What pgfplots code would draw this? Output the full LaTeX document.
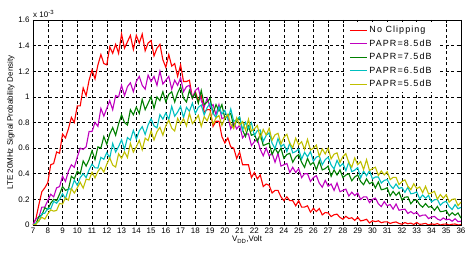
\documentclass[border=0pt]{standalone}
\usepackage{fontspec}
\setmainfont{Liberation Sans}
\newfontfamily\legfont[LetterSpace=12]{Liberation Sans}
\usepackage{pgfplots}
\usepackage{pgfplotstable}
\pgfplotsset{compat=1.18}
\definecolor{mred}{rgb}{1,0,0}
\definecolor{mmag}{rgb}{0.75,0,0.75}
\definecolor{mgreen}{rgb}{0,0.5,0}
\definecolor{mcyan}{rgb}{0,0.75,0.75}
\definecolor{myel}{rgb}{0.75,0.75,0}
\pgfplotstableread{
x r m g c y
7.0 0 0 0 0 0
7.2 0.05 0.05 0.01 0.016 0.005
7.4 0.16 0.06 0.066 0.028 0.036
7.6 0.26 0.14 0.077 0.088 0.06
7.8 0.29 0.14 0.135 0.092 0.046
8.0 0.33 0.19 0.12 0.13 0.086
8.2 0.47 0.24 0.17 0.126 0.118
8.4 0.48 0.22 0.20 0.184 0.108
8.6 0.57 0.29 0.19 0.17 0.114
8.8 0.56 0.30 0.24 0.20 0.168
9.0 0.71 0.38 0.30 0.245 0.163
9.2 0.68 0.34 0.27 0.205 0.212
9.4 0.75 0.42 0.28 0.282 0.194
9.6 0.84 0.47 0.38 0.28 0.284
9.8 0.80 0.45 0.36 0.35 0.249
10.0 0.93 0.53 0.42 0.31 0.29
10.2 0.93 0.60 0.40 0.37 0.333
10.4 1.07 0.59 0.50 0.40 0.288
10.6 1.01 0.61 0.46 0.37 0.358
10.8 1.13 0.73 0.51 0.43 0.352
11.0 1.21 0.73 0.58 0.475 0.412
11.2 1.14 0.80 0.51 0.446 0.368
11.4 1.25 0.77 0.61 0.445 0.419
11.6 1.33 0.91 0.60 0.528 0.449
11.8 1.26 0.85 0.69 0.513 0.413
12.0 1.25 0.91 0.63 0.565 0.475
12.2 1.39 0.97 0.71 0.523 0.524
12.4 1.34 0.90 0.76 0.636 0.468
12.6 1.41 1.01 0.70 0.569 0.452
12.8 1.34 1.00 0.79 0.612 0.556
13.0 1.49 1.09 0.86 0.665 0.52
13.2 1.38 1.01 0.80 0.591 0.571
13.4 1.43 1.08 0.78 0.682 0.527
13.6 1.48 1.11 0.90 0.663 0.638
13.8 1.37 1.04 0.86 0.739 0.569
14.0 1.48 1.12 0.92 0.67 0.61
14.2 1.42 1.16 0.87 0.734 0.661
14.4 1.49 1.09 0.98 0.768 0.587
14.6 1.36 1.06 0.90 0.707 0.678
14.8 1.42 1.17 0.95 0.781 0.659
15.0 1.44 1.12 1.00 0.83 0.735
15.2 1.32 1.16 0.91 0.774 0.664
15.4 1.38 1.09 1.00 0.758 0.728
15.6 1.41 1.20 0.97 0.862 0.762
15.8 1.29 1.10 1.04 0.826 0.701
16.0 1.23 1.13 0.96 0.875 0.775
16.2 1.33 1.16 1.02 0.823 0.818
16.4 1.24 1.06 1.04 0.926 0.756
16.6 1.26 1.13 0.96 0.849 0.734
16.8 1.16 1.09 1.03 0.882 0.832
17.0 1.25 1.15 1.08 0.925 0.79
17.2 1.12 1.04 0.99 0.839 0.829
17.4 1.12 1.08 0.96 0.918 0.773
17.6 1.13 1.09 1.05 0.887 0.872
17.8 0.99 0.99 0.99 0.951 0.791
18.0 1.04 1.05 1.03 0.87 0.82
18.2 0.97 1.07 0.95 0.918 0.857
18.4 1.01 0.97 1.05 0.936 0.769
18.6 0.88 0.92 0.94 0.859 0.846
18.8 0.90 0.99 0.96 0.917 0.813
19.0 0.90 0.92 0.99 0.95 0.875
19.2 0.77 0.94 0.87 0.874 0.788
19.4 0.81 0.86 0.94 0.838 0.836
19.6 0.81 0.94 0.89 0.922 0.854
19.8 0.69 0.83 0.94 0.866 0.777
20.0 0.64 0.84 0.83 0.895 0.835
20.2 0.68 0.85 0.86 0.823 0.864
20.4 0.61 0.75 0.87 0.906 0.788
20.6 0.60 0.80 0.77 0.809 0.752
20.8 0.52 0.75 0.81 0.822 0.836
21.0 0.57 0.78 0.84 0.845 0.78
21.2 0.47 0.68 0.74 0.741 0.807
21.4 0.47 0.71 0.69 0.802 0.739
21.6 0.47 0.71 0.77 0.753 0.826
21.8 0.37 0.62 0.70 0.799 0.733
22.0 0.41 0.65 0.71 0.70 0.75
22.2 0.36 0.67 0.65 0.736 0.777
22.4 0.39 0.59 0.71 0.742 0.679
22.6 0.30 0.54 0.62 0.653 0.746
22.8 0.32 0.60 0.63 0.699 0.703
23.0 0.31 0.54 0.64 0.72 0.755
23.2 0.25 0.56 0.55 0.638 0.662
23.4 0.27 0.49 0.60 0.596 0.704
23.6 0.27 0.56 0.56 0.674 0.716
23.8 0.22 0.46 0.60 0.612 0.633
24.0 0.19 0.47 0.52 0.63 0.684
24.2 0.22 0.48 0.55 0.573 0.708
24.4 0.19 0.41 0.56 0.64 0.638
24.6 0.19 0.45 0.49 0.563 0.604
24.8 0.15 0.41 0.53 0.574 0.678
25.0 0.19 0.44 0.55 0.593 0.626
25.2 0.14 0.37 0.49 0.514 0.65
25.4 0.14 0.40 0.45 0.567 0.59
25.6 0.15 0.40 0.52 0.532 0.668
25.8 0.10 0.34 0.47 0.573 0.585
26.0 0.13 0.37 0.49 0.498 0.60
26.2 0.105 0.385 0.43 0.53 0.624
26.4 0.128 0.326 0.50 0.538 0.535
26.6 0.079 0.295 0.43 0.47 0.594
26.8 0.097 0.348 0.44 0.51 0.555
27.0 0.094 0.303 0.46 0.53 0.60
27.2 0.066 0.32 0.38 0.468 0.516
27.4 0.08 0.27 0.43 0.438 0.553
27.6 0.085 0.328 0.39 0.504 0.563
27.8 0.059 0.26 0.43 0.458 0.488
28.0 0.045 0.27 0.37 0.48 0.534
28.2 0.068 0.28 0.39 0.424 0.557
28.4 0.05 0.226 0.40 0.492 0.486
28.6 0.057 0.256 0.345 0.416 0.451
28.8 0.036 0.23 0.375 0.428 0.524
29.0 0.06 0.25 0.39 0.448 0.471
29.2 0.032 0.20 0.34 0.368 0.495
29.4 0.037 0.22 0.314 0.42 0.433
29.6 0.045 0.22 0.36 0.384 0.51
29.8 0.016 0.175 0.322 0.424 0.426
30.0 0.033 0.20 0.335 0.36 0.44
30.2 0.026 0.21 0.289 0.375 0.451
30.4 0.033 0.166 0.336 0.375 0.387
30.6 0.018 0.144 0.275 0.328 0.422
30.8 0.024 0.182 0.28 0.348 0.391
31.0 0.025 0.15 0.291 0.355 0.417
31.2 0.012 0.16 0.227 0.31 0.354
31.4 0.02 0.124 0.262 0.285 0.372
31.6 0.024 0.164 0.231 0.32 0.372
31.8 0.012 0.115 0.257 0.285 0.315
32.0 0.006 0.12 0.196 0.293 0.339
32.2 0.019 0.124 0.217 0.255 0.352
32.4 0.01 0.09 0.22 0.294 0.302
32.6 0.015 0.105 0.166 0.244 0.276
32.8 0.004 0.088 0.193 0.248 0.322
33.0 0.02 0.099 0.195 0.258 0.284
33.2 0.005 0.068 0.159 0.205 0.297
33.4 0.008 0.077 0.139 0.234 0.253
33.6 0.013 0.078 0.167 0.209 0.302
33.8 0.0 0.05 0.139 0.231 0.243
34.0 0.009 0.062 0.145 0.18 0.25
34.2 0.004 0.067 0.114 0.197 0.263
34.4 0.011 0.047 0.145 0.199 0.201
34.6 0.0 0.036 0.104 0.154 0.238
34.8 0.006 0.055 0.107 0.176 0.209
35.0 0.008 0.04 0.114 0.185 0.237
35.2 0.0 0.046 0.072 0.143 0.178
35.4 0.006 0.029 0.096 0.121 0.20
35.6 0.008 0.049 0.076 0.159 0.204
35.8 0.0 0.026 0.094 0.127 0.151
36.0 0.003 0.03 0.054 0.138 0.179
}\data
\begin{document}
\begin{tikzpicture}
\path[use as bounding box] (-33bp,-29bp) rectangle (436bp,225bp);
\begin{axis}[
  at={(0,0)}, anchor=south west,
  scale only axis, width=428bp, height=205bp,
  xmin=7, xmax=36, ymin=0, ymax=1.6,
  xtick={7,...,36},
  ytick={0,0.2,0.4,0.6,0.8,1,1.2,1.4,1.6},
  tick align=inside, major tick length=3bp,
  tick style={black, line width=0.5bp},
  grid=major,
  major grid style={black, dash pattern=on 3bp off 2.5bp, line width=0.5bp},
  axis line style={black, line width=0.6bp},
  tick label style={font=\fontsize{8}{9}\selectfont},
  /pgf/number format/assume math mode=true,
  xticklabel style={yshift=1bp},
  xlabel={V\textsubscript{DD},Volt},
  ylabel={LTE 20MHz Signal Probability Density},
  label style={font=\fontsize{8}{9}\selectfont},
  xlabel style={yshift=4bp},
  ylabel style={yshift=-3bp},
  legend style={at={(0.727,0.99)}, anchor=north west, draw=none, fill=white,
    font=\legfont\fontsize{9}{10}\selectfont, inner xsep=5bp, inner ysep=2bp,
    row sep=1.5bp},
  legend cell align=left,
]
\addplot[mred, line width=1.1bp] table[x=x,y=r] {\data};
\addlegendentry{No Clipping}
\addplot[mmag, line width=1.1bp] table[x=x,y=m] {\data};
\addlegendentry{PAPR=8.5dB}
\addplot[mgreen, line width=1.1bp] table[x=x,y=g] {\data};
\addlegendentry{PAPR=7.5dB}
\addplot[mcyan, line width=1.1bp] table[x=x,y=c] {\data};
\addlegendentry{PAPR=6.5dB}
\addplot[myel, line width=1.1bp] table[x=x,y=y] {\data};
\addlegendentry{PAPR=5.5dB}
\end{axis}
\node[anchor=south west, inner sep=0pt, font=\fontsize{8}{9}\selectfont] at (0bp,207bp) {x 10\textsuperscript{-3}};
\end{tikzpicture}
\end{document}
